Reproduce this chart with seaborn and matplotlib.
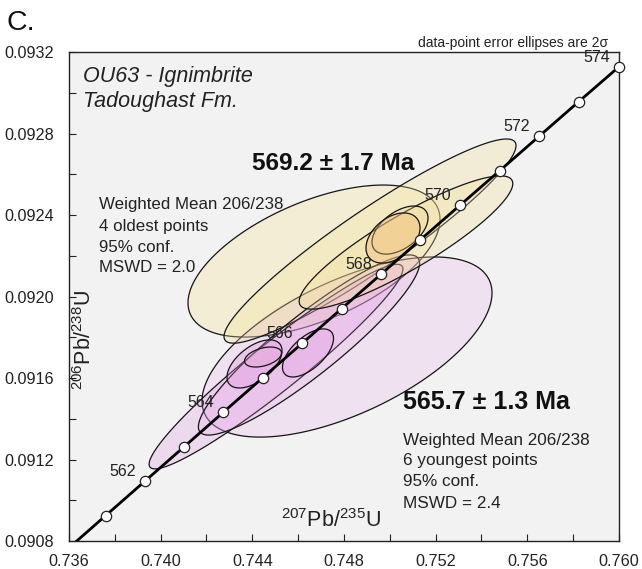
import numpy as np
import pandas as pd
import matplotlib
matplotlib.use("Agg")
import matplotlib.pyplot as plt
from matplotlib.colors import to_rgba
import seaborn as sns

# ---------------- data ----------------
# Concordia reference points (age in Ma, 207Pb/235U, 206Pb/238U)
conc_age = [560, 561, 562, 563, 564, 565, 566, 567, 568, 569, 570, 571, 572, 573, 574]
conc_x = [0.735884, 0.737593, 0.739305, 0.741019, 0.742734, 0.744451, 0.746170, 0.747891,
          0.749613, 0.751337, 0.753063, 0.754790, 0.756519, 0.758250, 0.759983]
conc_y = [0.090755, 0.090924, 0.091093, 0.091262, 0.091432, 0.091601, 0.091770, 0.091940,
          0.092109, 0.092279, 0.092448, 0.092617, 0.092787, 0.092957, 0.093126]

# Data-point error ellipses (2 sigma): centre, half-extents, correlation
ell_x   = [0.746691, 0.748131, 0.749135, 0.745033, 0.746473, 0.750705, 0.750444, 0.750138, 0.744095, 0.746429, 0.744465]
ell_y   = [0.092174, 0.091752, 0.092272, 0.091656, 0.091762, 0.092265, 0.092326, 0.092287, 0.091669, 0.091723, 0.091703]
ell_w   = [0.005498, 0.006327, 0.006371, 0.005537, 0.004826, 0.004660, 0.001222, 0.001178, 0.001200, 0.001113, 0.000807]
ell_h   = [0.000373, 0.000442, 0.000501, 0.000502, 0.000442, 0.000327, 0.000118, 0.000123, 0.000118, 0.000118, 0.000049]
ell_rho = [0.55, 0.60, 0.935, 0.954, 0.908, 0.884, 0.50, 0.40, 0.55, 0.60, 0.40]
ell_col = ["#f5e6a0", "#e6a6e6", "#f3e09a", "#e294e2", "#e8a4e8", "#f3e09a",
           "#f2d890", "#f2b878", "#e090e0", "#e49ae4", "#eaa6d0"]
ell_alpha = [0.35, 0.22, 0.30, 0.26, 0.20, 0.30, 0.30, 0.38, 0.30, 0.28, 0.30]

label_ages = [562, 564, 566, 568, 570, 572, 574]

old_lines = ["Weighted Mean 206/238", "4 oldest points", "95% conf.", "MSWD = 2.0"]
young_lines = ["Weighted Mean 206/238", "6 youngest points", "95% conf.", "MSWD = 2.4"]
old_age = "569.2 ± 1.7 Ma"
young_age = "565.7 ± 1.3 Ma"
sample_lines = ["OU63 - Ignimbrite", "Tadoughast Fm."]

xticks = [0.736, 0.738, 0.740, 0.742, 0.744, 0.746, 0.748, 0.750, 0.752, 0.754, 0.756, 0.758, 0.760]
yticks = [0.0908, 0.0910, 0.0912, 0.0914, 0.0916, 0.0918, 0.0920, 0.0922, 0.0924, 0.0926, 0.0928, 0.0930, 0.0932]

# ---------------- style ----------------
sns.set_style("ticks")
plt.rcParams["font.family"] = ["Liberation Sans", "DejaVu Sans"]
plt.rcParams["mathtext.fontset"] = "custom"
plt.rcParams["mathtext.rm"] = "Liberation Sans"
plt.rcParams["mathtext.it"] = "Liberation Sans:italic"

fig = plt.figure(figsize=(6.42, 5.69), dpi=100)
ax = fig.add_axes([69/642, 28/569, 550/642, 489/569])
ax.set_facecolor("#f2f2f2")

# ellipses
t = np.linspace(0, 2*np.pi, 300)
for cx, cy, w, h, r, c, a in zip(ell_x, ell_y, ell_w, ell_h, ell_rho, ell_col, ell_alpha):
    ex = cx + w*np.cos(t)
    ey = cy + h*(r*np.cos(t) + np.sqrt(1 - r*r)*np.sin(t))
    ax.fill(ex, ey, facecolor=to_rgba(c, a), edgecolor="#151515", lw=0.9, zorder=2)

# concordia
conc = pd.DataFrame({"age": conc_age, "x": conc_x, "y": conc_y})
sns.lineplot(data=conc, x="x", y="y", sort=False, color="black", lw=2.0, ax=ax, zorder=3)
marks = conc[conc["age"] >= 561]
sns.scatterplot(data=marks, x="x", y="y", s=55, color="white", edgecolor="#222222",
                linewidth=0.9, ax=ax, zorder=4, clip_on=False)
for _, row in conc[conc["age"].isin(label_ages)].iterrows():
    ax.annotate(f"{int(row['age'])}", (row["x"], row["y"]), xytext=(-16, 7),
                textcoords="offset points", ha="center", va="center", fontsize=11.5,
                color="#222222", zorder=5)

ax.set_xlim(xticks[0], xticks[-1])
ax.set_ylim(yticks[0], yticks[-1])
ax.set_xticks(xticks)
ax.set_yticks(yticks)
ax.set_xticklabels([f"{v:.3f}" if i % 2 == 0 else "" for i, v in enumerate(xticks)])
ax.set_yticklabels([f"{v:.4f}" if i % 2 == 0 else "" for i, v in enumerate(yticks)])
ax.tick_params(axis="both", direction="in", length=5, width=0.8, labelsize=11.7, colors="#222222")
ax.tick_params(axis="y", pad=11)
ax.tick_params(axis="x", pad=9)
for s in ax.spines.values():
    s.set_visible(True)
    s.set_color("#222222")
    s.set_linewidth(1.0)
ax.set_xlabel("")
ax.set_ylabel("")

def fx(px):
    return (px - 69) / 550

def fy(py):
    return (541 - py) / 489

# texts
ax.text(fx(83), fy(82), sample_lines[0], transform=ax.transAxes, fontsize=15.5, style="italic",
        va="baseline", ha="left", color="#222222")
ax.text(fx(83), fy(107), sample_lines[1], transform=ax.transAxes, fontsize=15.5, style="italic",
        va="baseline", ha="left", color="#222222")
ax.text(fx(333), fy(163), old_age, transform=ax.transAxes, fontsize=17.6, fontweight="bold",
        ha="center", va="center", color="#111111")
for i, line in enumerate(old_lines):
    ax.text(fx(99), fy(205 + 21*i), line, transform=ax.transAxes, fontsize=12.2,
            ha="left", va="center", color="#222222")
ax.text(fx(403), fy(402), young_age, transform=ax.transAxes, fontsize=18, fontweight="bold",
        ha="left", va="center", color="#111111")
for i, line in enumerate(young_lines):
    ax.text(fx(403), fy(440 + 21*i), line, transform=ax.transAxes, fontsize=12.3,
            ha="left", va="center", color="#222222")
ax.text(fx(331), fy(521), r"$^{207}$Pb/$^{235}$U", transform=ax.transAxes, fontsize=15.5,
        ha="center", va="center", color="#222222")
ax.text(fx(85), fy(340), r"$^{206}$Pb/$^{238}$U", transform=ax.transAxes, fontsize=15.5,
        ha="center", va="center", rotation=90, color="#222222")

fig.text(608/642, 1 - 43/569, "data-point error ellipses are 2σ", fontsize=10,
         ha="right", va="center", color="#222222")
fig.text(7/642, 1 - 30/569, "C.", fontsize=20.5, ha="left", va="baseline", color="#111111")

fig.savefig("out.png", dpi=100, facecolor="white")
